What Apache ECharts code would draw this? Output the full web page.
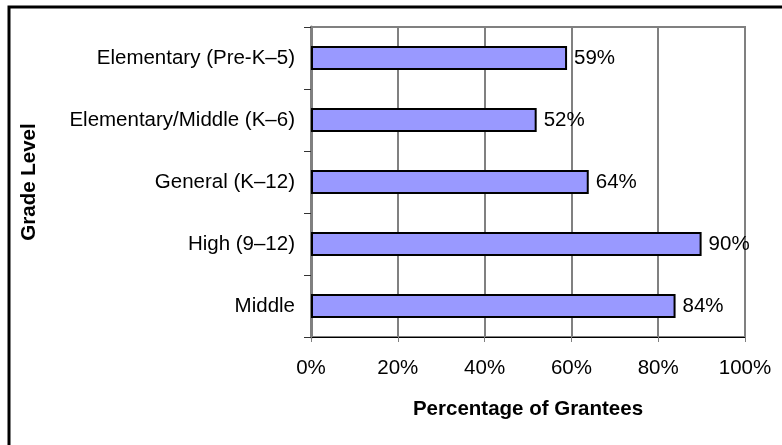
<!DOCTYPE html>
<html><head><meta charset="utf-8">
<script src="https://cdn.jsdelivr.net/npm/echarts@6/dist/echarts.min.js"></script>
<style>html,body{margin:0;padding:0;background:#fff}#c{width:782px;height:445px}</style>
</head><body><div id="c"></div>
<script>
const categories = ['Elementary (Pre-K\u20135)', 'Elementary/Middle (K\u20136)', 'General (K\u201312)', 'High (9\u201312)', 'Middle'];
const values = [59, 52, 64, 90, 84];
const xTicks = [0, 20, 40, 60, 80, 100];
const FONT = '"Liberation Sans", Arial, sans-serif';
const FS = 20.5;
const chart = echarts.init(document.getElementById('c'), null, {renderer: 'canvas'});
chart.setOption({
  animation: false,
  backgroundColor: '#fff',
  textStyle: {fontFamily: FONT},
  graphic: [{type: 'rect', shape: {x: 9, y: 7, width: 900, height: 600}, style: {fill: 'none', stroke: '#000', lineWidth: 3}, z: 100}],
  grid: {left: 311, right: 37, top: 27, bottom: 108, show: true, borderColor: '#808080', borderWidth: 2, backgroundColor: 'transparent'},
  xAxis: {
    type: 'value', min: xTicks[0], max: xTicks[xTicks.length - 1], interval: 20,
    name: 'Percentage of Grantees', nameLocation: 'middle', nameGap: 62,
    nameTextStyle: {fontFamily: FONT, fontSize: FS, fontWeight: 'bold', color: '#000'},
    axisLine: {show: true, lineStyle: {color: '#000', width: 1}},
    axisTick: {show: true, length: 5, lineStyle: {color: '#808080', width: 1}},
    axisLabel: {fontFamily: FONT, fontSize: FS, color: '#000', margin: 21, formatter: v => v + '%'},
    splitLine: {show: true, lineStyle: {color: '#808080', width: 2}}
  },
  yAxis: {
    type: 'category', data: categories, inverse: true,
    name: 'Grade Level', nameLocation: 'middle', nameGap: 271, nameRotate: 90,
    nameTextStyle: {fontFamily: FONT, fontSize: FS, fontWeight: 'bold', color: '#000'},
    axisLine: {show: true, lineStyle: {color: '#808080', width: 3}},
    axisTick: {show: true, length: 7, alignWithLabel: false, lineStyle: {color: '#333', width: 1}},
    axisLabel: {fontFamily: FONT, fontSize: FS, color: '#000', margin: 16},
    splitLine: {show: false}
  },
  series: [{
    type: 'bar', data: values, barCategoryGap: '61%',
    itemStyle: {color: '#9999FF', borderColor: '#000', borderWidth: 2},
    label: {show: true, position: 'right', distance: 7, fontFamily: FONT, fontSize: FS, color: '#000', formatter: p => p.value + '%'}
  }]
});
</script></body></html>
